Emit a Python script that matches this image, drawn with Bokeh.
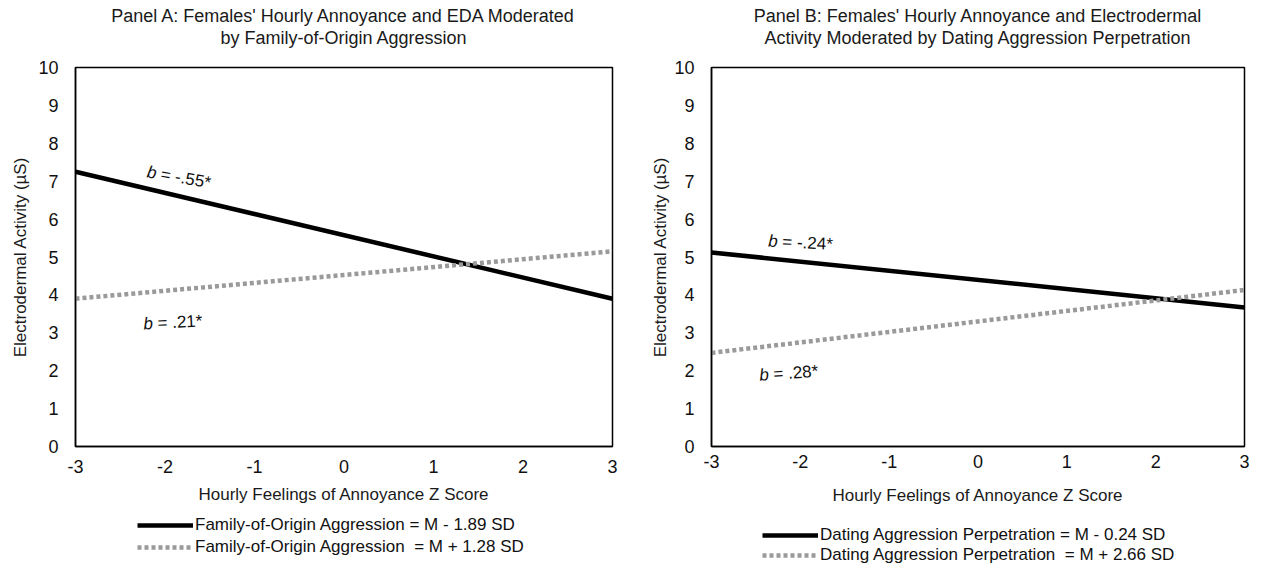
import math
from bokeh.plotting import figure
from bokeh.layouts import row, column
from bokeh.models import Range1d, FixedTicker, Title, Legend, LegendItem
from bokeh.core.properties import value
from bokeh.embed import file_html
from bokeh.resources import INLINE

# ---------------- data ----------------
x_z = [-3, 3]                       # Hourly feelings of annoyance Z score
a_low = [7.25, 3.9]                 # Family-of-Origin Aggression = M - 1.89 SD
a_high = [3.9, 5.15]                # Family-of-Origin Aggression = M + 1.28 SD
b_low = [5.12, 3.67]                # Dating Aggression Perpetration = M - 0.24 SD
b_high = [2.47, 4.13]               # Dating Aggression Perpetration = M + 2.66 SD
x_ticks = [-3, -2, -1, 0, 1, 2, 3]
y_ticks = [0, 1, 2, 3, 4, 5, 6, 7, 8, 9, 10]

a_title = ["Panel A: Females' Hourly Annoyance and EDA Moderated",
           "by Family-of-Origin Aggression"]
b_title = ["Panel B: Females' Hourly Annoyance and Electrodermal",
           "Activity Moderated by Dating Aggression Perpetration"]
a_legend = ["Family-of-Origin Aggression = M - 1.89 SD",
            "Family-of-Origin Aggression  = M + 1.28 SD"]
b_legend = ["Dating Aggression Perpetration = M - 0.24 SD",
            "Dating Aggression Perpetration  = M + 2.66 SD"]
a_slopes = ["= -.55*", "= .21*"]
b_slopes = ["= -.24*", "= .28*"]

x_label = "Hourly Feelings of Annoyance Z Score"
y_label = "Electrodermal Activity (\u00b5S)"

FONT = "Liberation Sans"
GRAY = "#9a9a9a"
TXT = "#1a1a1a"
SOLID = dict(line_color="black", line_width=4.5)
DOTTED = dict(line_color=GRAY, line_width=4.5, line_dash="4 3", line_cap="butt")


def make_panel(titles, low, high, slopes, ann, width, left, right,
               xtick_stand, xlab_stand, ylab_stand):
    p = figure(width=width, height=512, output_backend="svg", toolbar_location=None,
               x_range=Range1d(-3, 3), y_range=Range1d(0, 10),
               min_border_left=left, min_border_right=right, min_border_top=67,
               min_border_bottom=66, background_fill_color="white",
               border_fill_color="white")
    p.outline_line_color = "black"
    p.outline_line_width = 1.5
    p.grid.visible = False
    # spacer, then title lines stacked outward from the frame
    p.add_layout(Title(text=" ", text_font_size="1px", standoff=17), "above")
    for t in (titles[1], titles[0]):
        p.add_layout(Title(text=t, align="center", text_font=FONT,
                           text_font_size="18px", text_font_style="normal",
                           text_color=TXT, standoff=0), "above")
    for ax, ticks in ((p.xaxis[0], x_ticks), (p.yaxis[0], y_ticks)):
        ax.ticker = FixedTicker(ticks=ticks)
        ax.major_label_overrides = {t: str(t) for t in ticks}
        ax.major_tick_out = 0
        ax.major_tick_in = 0
        ax.minor_tick_out = 0
        ax.minor_tick_in = 0
        ax.axis_line_color = "black"
        ax.axis_line_width = 1.5
        ax.major_label_text_font = FONT
        ax.major_label_text_font_size = "18px"
        ax.major_label_text_color = "#111111"
        ax.axis_label_text_font = FONT
        ax.axis_label_text_font_size = "17px"
        ax.axis_label_text_font_style = "normal"
        ax.axis_label_text_color = TXT
    p.xaxis.major_label_standoff = xtick_stand
    p.yaxis.major_label_standoff = 17
    p.xaxis.axis_label = x_label
    p.yaxis.axis_label = y_label
    p.xaxis.axis_label_standoff = xlab_stand
    p.yaxis.axis_label_standoff = ylab_stand

    p.line(x_z, low, **SOLID)
    p.line(x_z, high, **DOTTED)

    for (ax_, ay_, ang), txt in zip(ann, slopes):
        a = math.radians(ang)
        p.text(x=[ax_], y=[ay_], text=["b"], angle=a, text_font=value(FONT),
               text_font_style="italic", text_font_size="17px",
               text_baseline="middle", text_align="left", text_color="#111111")
        w = 14
        p.text(x=[ax_], y=[ay_], text=[txt], angle=a, text_font=value(FONT),
               text_font_size="17px", text_baseline="middle", text_align="left",
               x_offset=w * math.cos(a), y_offset=-w * math.sin(a),
               text_color="#111111")
    return p


def make_legend(labels, low, high, width, left, right, loc, spacing, row_h):
    # legend-only strip: the series are drawn out of its (empty) view range,
    # so only the legend swatches and labels show
    q = figure(width=width, height=67, output_backend="svg", toolbar_location=None,
               x_range=Range1d(-3, 3), y_range=Range1d(100, 101),
               x_axis_location=None, y_axis_location=None,
               min_border_left=left, min_border_right=right,
               min_border_top=0, min_border_bottom=0,
               background_fill_color="white", border_fill_color="white")
    q.outline_line_color = None
    q.grid.visible = False
    r1 = q.line(x_z, low, **SOLID)
    r2 = q.line(x_z, high, **DOTTED)
    leg = Legend(items=[LegendItem(label=labels[0], renderers=[r1]),
                        LegendItem(label=labels[1], renderers=[r2])],
                 location=loc, orientation="vertical")
    leg.label_text_font = FONT
    leg.label_text_font_size = "17px"
    leg.label_text_color = "#111111"
    leg.glyph_width = 56
    leg.glyph_height = row_h
    leg.label_height = row_h
    leg.label_standoff = 2
    leg.spacing = spacing
    leg.padding = 0
    leg.margin = 0
    leg.border_line_alpha = 0
    leg.background_fill_alpha = 0
    q.add_layout(leg, "center")
    return q


pA = make_panel(a_title, a_low, a_high, a_slopes,
                [(-2.2, 7.25, -10), (-2.24, 3.23, 3)], 640, 75, 28, 13, 9, 5)
pB = make_panel(b_title, b_low, b_high, b_slopes,
                [(-2.36, 5.42, -3), (-2.46, 1.88, 4)], 626, 71, 22, 8, 15, 1)
lA = make_legend(a_legend, a_low, a_high, 640, 75, 28, (62, 21), 0, 22)
lB = make_legend(b_legend, b_low, b_high, 626, 71, 22, (51, 14), 0, 20)

layout = row(column(pA, lA), column(pB, lB))
open("out.html", "w").write(file_html(layout, INLINE))
